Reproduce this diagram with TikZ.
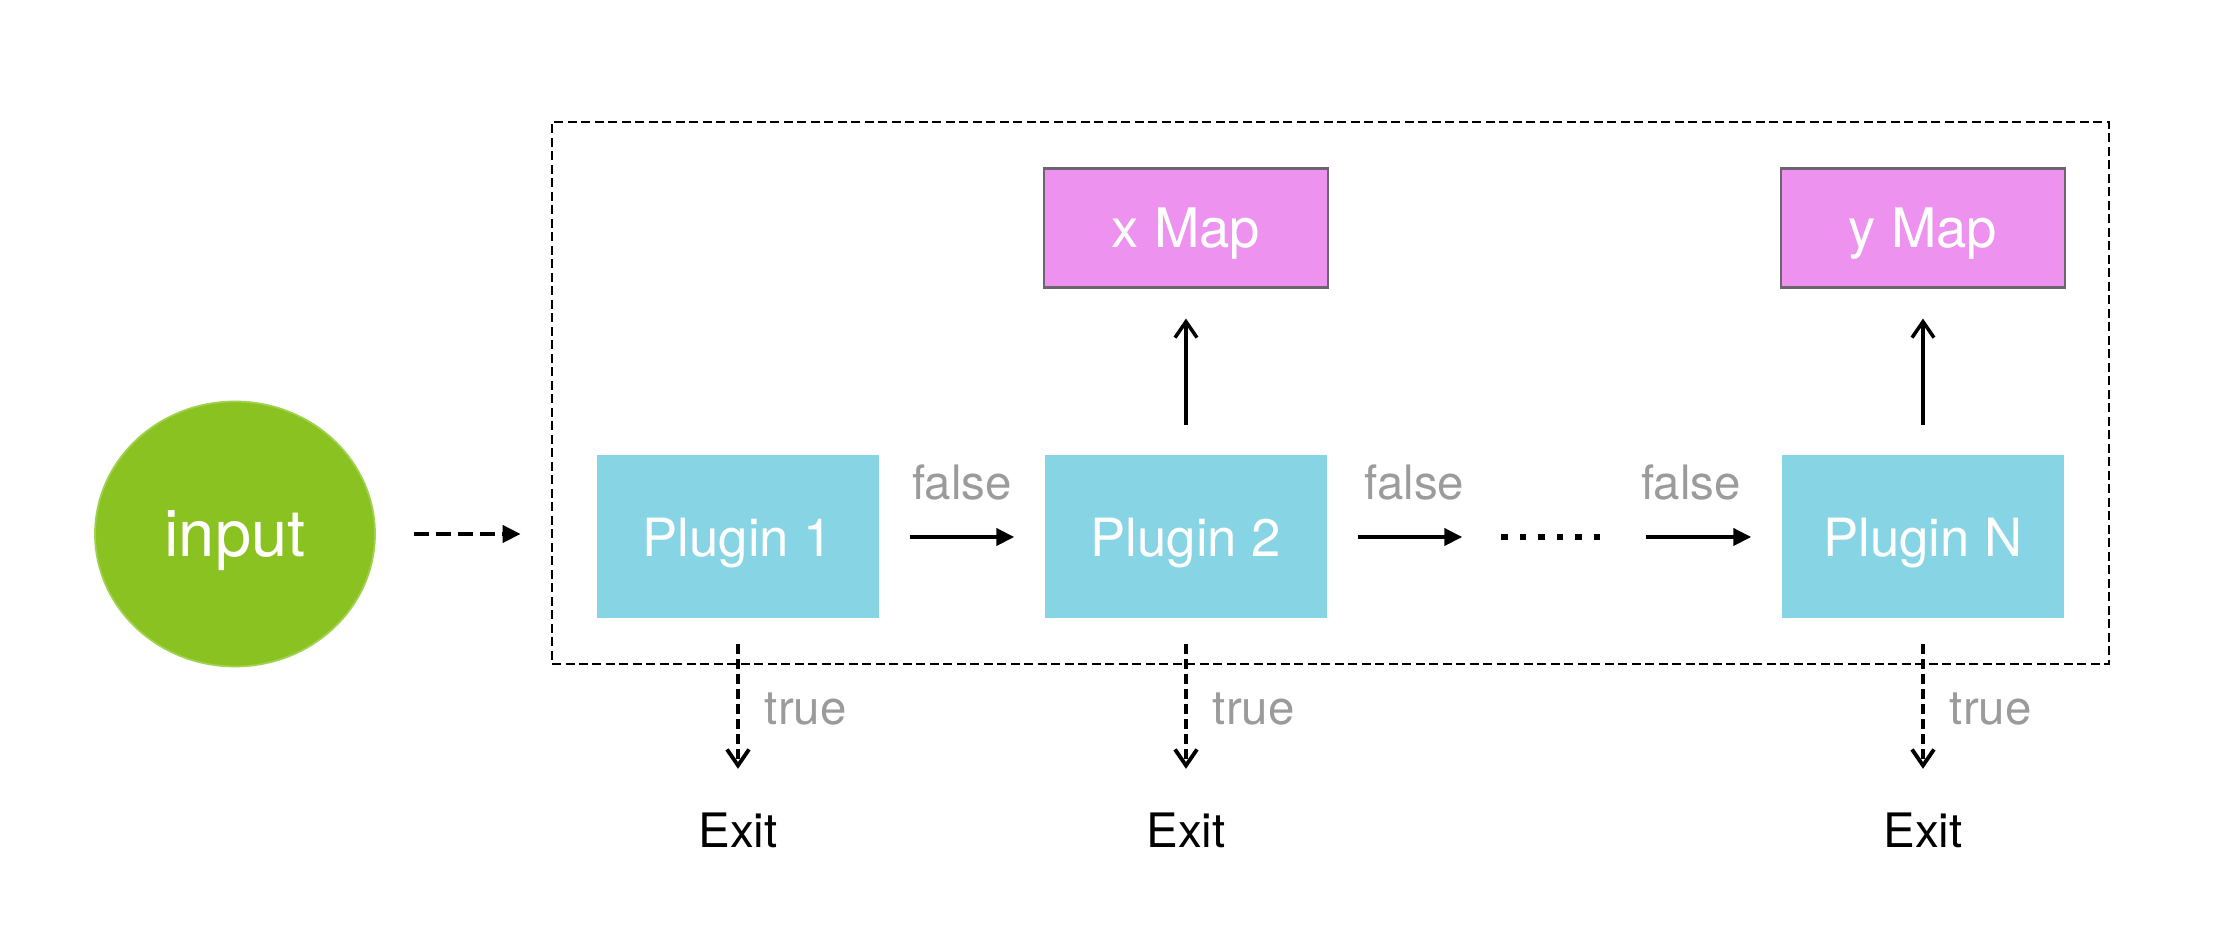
\documentclass[tikz,border=0pt]{standalone}
\usepackage{fontspec}
\setmainfont{TeX Gyre Heros}
\usetikzlibrary{arrows.meta,shapes.geometric}
\definecolor{inputgreen}{RGB}{138,194,34}
\definecolor{inputedge}{RGB}{160,210,80}
\definecolor{pluginblue}{RGB}{135,212,229}
\definecolor{mappink}{RGB}{238,146,240}
\definecolor{mapedge}{RGB}{110,100,112}
\definecolor{labelgray}{RGB}{155,155,155}

\begin{document}
\begin{tikzpicture}[
  plugin/.style={fill=pluginblue, minimum width=2.82cm, minimum height=1.63cm,
                 inner sep=0pt, text depth=0pt, text=white, font=\fontsize{15}{18}\selectfont},
  mapbox/.style={fill=mappink, draw=mapedge, line width=0.6pt, minimum width=2.84cm,
                 minimum height=1.19cm, inner sep=0pt, text depth=0pt, text=white,
                 font=\fontsize{15.5}{18}\selectfont},
  exitnode/.style={inner sep=0pt, font=\fontsize{13.5}{16}\selectfont},
  cond/.style={inner sep=0pt, text=labelgray, font=\fontsize{13.5}{16}\selectfont},
  frame/.style={draw, line width=0.8pt, dash pattern=on 0.09cm off 0.045cm,
                minimum width=15.57cm, minimum height=5.42cm, inner sep=0pt},
  falsearr/.style={-{Triangle[length=1.8mm,width=1.7mm]}, line width=1.15pt,
                   shorten <=0.30cm, shorten >=0.30cm},
  inarr/.style={-{Triangle[length=1.8mm,width=1.7mm]}, line width=1.15pt,
                dash pattern=on 0.15cm off 0.07cm, shorten <=0.38cm, shorten >=0.30cm},
  maparr/.style={-{Straight Barb[length=1.6mm,width=2.2mm]}, line width=1pt,
                 shorten <=0.30cm, shorten >=0.30cm},
  exitarr/.style={-{Straight Barb[length=1.6mm,width=2.2mm]}, line width=1.1pt,
                  dash pattern=on 0.10cm off 0.05cm, shorten <=0.25cm, shorten >=0.43cm},
  dotline/.style={line width=0.065cm, dash pattern=on 0.065cm off 0.12cm},
]
  \useasboundingbox (0,0) rectangle (22.24,9.44);

  \node[frame] (box) at (13.305,5.51) {};

  \node[ellipse, fill=inputgreen, draw=inputedge, line width=0.5pt,
        minimum width=2.8cm, minimum height=2.65cm, text=white, text depth=0pt,
        font=\fontsize{18.5}{22}\selectfont] (input) at (2.35,4.10) {input};

  \node[plugin] (plug1) at (7.38,4.07) {Plugin 1};
  \node[plugin] (plug2) at (11.86,4.07) {Plugin 2};
  \node[plugin] (plugN) at (19.23,4.07) {Plugin N};
  \node[inner sep=0pt, minimum width=0.98cm, minimum height=0pt] (dots) at (15.51,4.07) {};

  \node[mapbox] (xmap) at (11.86,7.16) {x Map};
  \node[mapbox] (ymap) at (19.23,7.16) {y Map};

  \node[exitnode] (exit1) at (7.38,1.14) {Exit};
  \node[exitnode] (exit2) at (11.86,1.14) {Exit};
  \node[exitnode] (exitN) at (19.23,1.14) {Exit};

  \draw[inarr] (input.east) -- (input -| box.west);

  \draw[falsearr] (plug1) -- (plug2) node[midway, above=0.35cm, cond] {false};
  \draw[falsearr, shorten >=0.39cm] (plug2) -- (dots.west) node[midway, above=0.35cm, cond] {false};
  \draw[falsearr, shorten <=0.45cm] (dots.east) -- (plugN) node[midway, above=0.35cm, cond] {false};
  \draw[dotline] (dots.west) -- (dots.east);

  \draw[maparr] (plug2) -- (xmap);
  \draw[maparr] (plugN) -- (ymap);

  \draw[exitarr] (plug1) -- (exit1) node[midway, right=0.25cm, yshift=0.07cm, cond] {true};
  \draw[exitarr] (plug2) -- (exit2) node[midway, right=0.25cm, yshift=0.07cm, cond] {true};
  \draw[exitarr] (plugN) -- (exitN) node[midway, right=0.25cm, yshift=0.07cm, cond] {true};
\end{tikzpicture}
\end{document}
